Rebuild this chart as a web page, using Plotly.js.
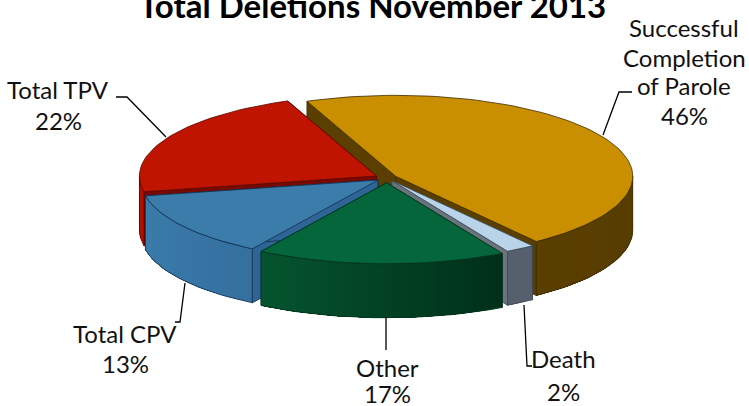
<!DOCTYPE html>
<html><head><meta charset="utf-8">
<script src="https://cdn.plot.ly/plotly-3.0.1.min.js"></script>
<style>html,body{margin:0;padding:0;background:#fff}#c{width:749px;height:406px}</style>
</head><body><div id="c"></div>
<script>
// ---- data ----
const categories = ["Successful Completion of Parole", "Death", "Other", "Total CPV", "Total TPV"];
const values = [46, 2, 17, 13, 22];
const titleText = "Total Deletions November 2013";

// ---- styling / geometry ----
const explode   = [10, 9, 14, 11, 12];
const topColors = ["#c98f00", "#b9d4e8", "#04663a", "#3b7cab", "#bf1500"];
const edgeColors= ["#3d2b00", "#3c4650", "#02341d", "#10304f", "#560800"];
const sideColors= ["#5a3f00", "#6a747e", "#02341d", "#2f6596", "#7a0a00"];
const rimFrom   = ["#5a3f00", "#55606c", "#05552f", "#3b7cab", "#b01200"];
const rimTo     = ["#563c00", "#55606c", "#002f1a", "#35709f", "#b01200"];
const cx = 387, cy = 178, rx = 237, ry = 81, depth = 54, startAngle = -22;
const drawOrder = [0, 4, 1, 3, 2];

const rad = d => d * Math.PI / 180;
const total = values.reduce((a, b) => a + b, 0);
let acc = startAngle;
const slices = values.map((v, i) => {
  const a = acc, b = acc + v / total * 360; acc = b;
  const m = rad((a + b) / 2);
  return { a, b, i, ax: cx + explode[i] * Math.sin(m), ay: cy - explode[i] * 0.34 * Math.cos(m) };
});
const px = (s, d) => s.ax + rx * Math.sin(rad(d));
const py = (s, d, dz) => s.ay - ry * Math.cos(rad(d)) + (dz || 0);
const hex = c => [1, 3, 5].map(k => parseInt(c.substr(k, 2), 16));
const mix = (c1, c2, t) => { const A = hex(c1), B = hex(c2);
  return "rgb(" + A.map((v, k) => Math.round(v + (B[k] - v) * t)).join(",") + ")"; };

const traces = [];
function poly(xs, ys, fill, line, w, name) {
  traces.push({ type: "scatter", mode: "lines", x: xs, y: ys, fill: "toself", fillcolor: fill,
    line: { color: line, width: w }, hoverinfo: "skip", showlegend: false, name: name || "" });
}
function side(s, d) {
  const X = [s.ax, px(s, d), px(s, d), s.ax, s.ax];
  const Y = [s.ay, py(s, d), py(s, d, depth), s.ay + depth, s.ay];
  poly(X, Y, sideColors[s.i], edgeColors[s.i], 0.8, categories[s.i]);
}
function arcBand(s, from, to) {
  const X = [], Y = [], m = Math.max(1, Math.ceil((to - from) / 2));
  for (let k = 0; k <= m; k++) { const d = from + (to - from) * k / m; X.push(px(s, d)); Y.push(py(s, d)); }
  for (let k = m; k >= 0; k--) { const d = from + (to - from) * k / m; X.push(px(s, d)); Y.push(py(s, d, depth)); }
  X.push(X[0]); Y.push(Y[0]);
  return [X, Y];
}
drawOrder.forEach(idx => {
  const s = slices[idx];
  side(s, s.a); side(s, s.b);
  // outer wall, front half only; each band runs to the end so no seams show
  const lo = Math.max(s.a, 90), hi = Math.min(s.b, 270);
  if (hi > lo) {
    const n = Math.max(2, Math.ceil((hi - lo) / 2));
    for (let k = 0; k < n; k++) {
      const d1 = lo + (hi - lo) * k / n;
      const b = arcBand(s, d1, hi);
      poly(b[0], b[1], mix(rimTo[idx], rimFrom[idx], (k + .5) / n), "rgba(0,0,0,0)", 0, categories[idx]);
    }
    const o = arcBand(s, lo, hi);
    traces.push({ type: "scatter", mode: "lines", x: o[0], y: o[1], line: { color: edgeColors[idx], width: 0.8 },
      hoverinfo: "skip", showlegend: false });
  }
  // top face
  const X = [s.ax], Y = [s.ay];
  const m = Math.ceil((s.b - s.a) / 2);
  for (let k = 0; k <= m; k++) { const d = s.a + (s.b - s.a) * k / m; X.push(px(s, d)); Y.push(py(s, d)); }
  X.push(s.ax); Y.push(s.ay);
  poly(X, Y, topColors[idx], edgeColors[idx], 0.8, categories[idx]);
});

// leader lines
const leaders = [
  [[116, 127, 166], [97, 97, 137]],
  [[632, 619, 603], [92, 92, 135]],
  [[185, 180, 175], [283, 322, 322]],
  [[386, 386], [317, 350]],
  [[524, 527, 532], [305, 366, 366]]
];
leaders.forEach(l => traces.push({ type: "scatter", mode: "lines", x: l[0], y: l[1],
  line: { color: "#000", width: 1.3 }, hoverinfo: "skip", showlegend: false }));

const font = { family: "Lato, 'Open Sans', sans-serif", size: 24, color: "#111" };
const labelLines = [
  ["Successful", 684, 27], ["Completion", 684, 57], ["of Parole", 684, 85], [values[0] + "%", 684, 115],
  ["Total TPV", 58, 89], [values[4] + "%", 58, 120],
  ["Total CPV", 125, 333], [values[3] + "%", 125, 363],
  ["Other", 387, 367], [values[2] + "%", 387, 393],
  ["Death", 563, 358], [values[1] + "%", 563, 391]
];
const annotations = labelLines.map(l => ({ text: l[0], x: l[1], y: l[2], xref: "x", yref: "y",
  showarrow: false, font, xanchor: "center", yanchor: "middle" }));
annotations.push({ text: "<b>" + titleText + "</b>", x: 372, y: 5, xref: "x", yref: "y", showarrow: false,
  font: { family: "Lato, sans-serif", size: 33, color: "#000" }, xanchor: "center", yanchor: "middle" });

const hidden = { visible: false, fixedrange: true };
Plotly.newPlot("c", traces, {
  width: 749, height: 406, margin: { l: 0, r: 0, t: 0, b: 0 },
  paper_bgcolor: "#fff", plot_bgcolor: "#fff", showlegend: false,
  xaxis: Object.assign({ range: [0, 749] }, hidden),
  yaxis: Object.assign({ range: [406, 0] }, hidden),
  annotations
}, { displayModeBar: false, staticPlot: true });
</script></body></html>
